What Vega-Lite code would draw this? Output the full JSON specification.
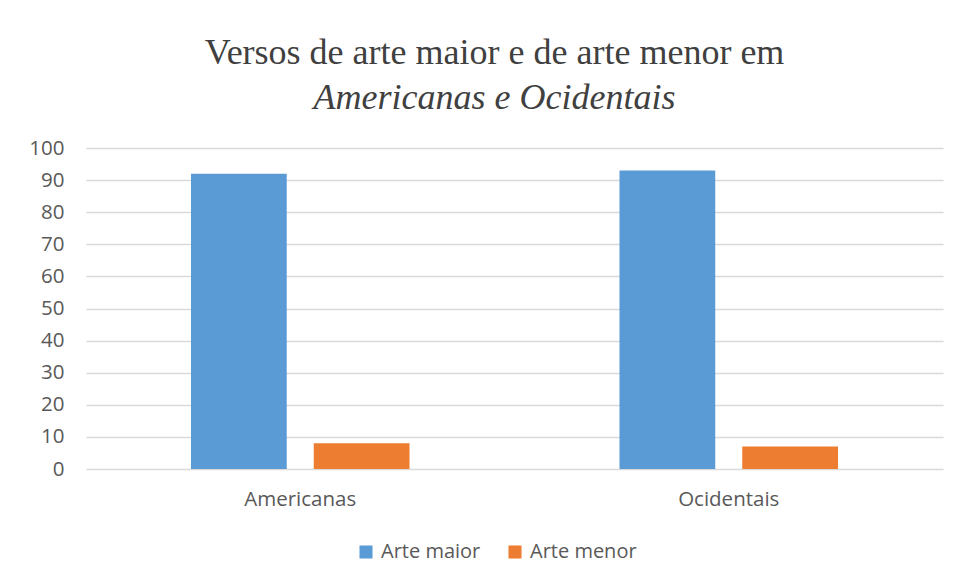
{
  "$schema": "https://vega.github.io/schema/vega-lite/v6.json",
  "autosize": {"type": "none"},
  "width": 857,
  "height": 321,
  "padding": {"left": 86, "top": 148, "right": 18, "bottom": 116},
  "background": "white",
  "title": {
    "text": "Versos de arte maior e de arte menor em",
    "subtitle": "Americanas e Ocidentais",
    "anchor": "middle",
    "frame": "group",
    "dx": -20,
    "font": "Liberation Serif",
    "fontSize": 36,
    "fontWeight": "normal",
    "color": "#404040",
    "subtitleFont": "Liberation Serif",
    "subtitleFontSize": 36,
    "subtitleFontStyle": "italic",
    "subtitleColor": "#404040",
    "subtitlePadding": 9,
    "offset": 21
  },
  "data": {
    "values": [
      {"obra": "Americanas", "tipo": "Arte maior", "valor": 92},
      {"obra": "Americanas", "tipo": "Arte menor", "valor": 8},
      {"obra": "Ocidentais", "tipo": "Arte maior", "valor": 93},
      {"obra": "Ocidentais", "tipo": "Arte menor", "valor": 7}
    ]
  },
  "mark": {"type": "bar"},
  "encoding": {
    "x": {
      "field": "obra", "type": "nominal", "title": null,
      "scale": {"paddingInner": 0.49, "paddingOuter": 0.245},
      "axis": {"labelAngle": 0, "ticks": false, "domain": false, "labelPadding": 20, "labelFont": "Open Sans", "labelFontSize": 20.5, "labelColor": "#595959"}
    },
    "xOffset": {"field": "tipo", "type": "nominal", "scale": {"paddingInner": 0.22}},
    "y": {
      "field": "valor", "type": "quantitative", "title": null,
      "scale": {"domain": [0, 100], "nice": false},
      "axis": {"values": [0,10,20,30,40,50,60,70,80,90,100], "ticks": false, "domain": false, "labelPadding": 22, "labelFont": "Open Sans", "labelFontSize": 20.5, "labelColor": "#595959", "gridColor": "#d9d9d9", "gridWidth": 1.5}
    },
    "color": {
      "field": "tipo", "type": "nominal", "title": null,
      "scale": {"domain": ["Arte maior", "Arte menor"], "range": ["#5b9bd5", "#ed7d31"]},
      "legend": {"orient": "none", "legendX": 270, "legendY": 394, "direction": "horizontal", "symbolType": "square", "symbolSize": 170, "symbolStrokeWidth": 0, "labelFont": "Open Sans", "labelFontSize": 20, "labelColor": "#595959", "columnPadding": 24, "labelOffset": 5}
    }
  },
  "config": {"view": {"stroke": null}}
}
